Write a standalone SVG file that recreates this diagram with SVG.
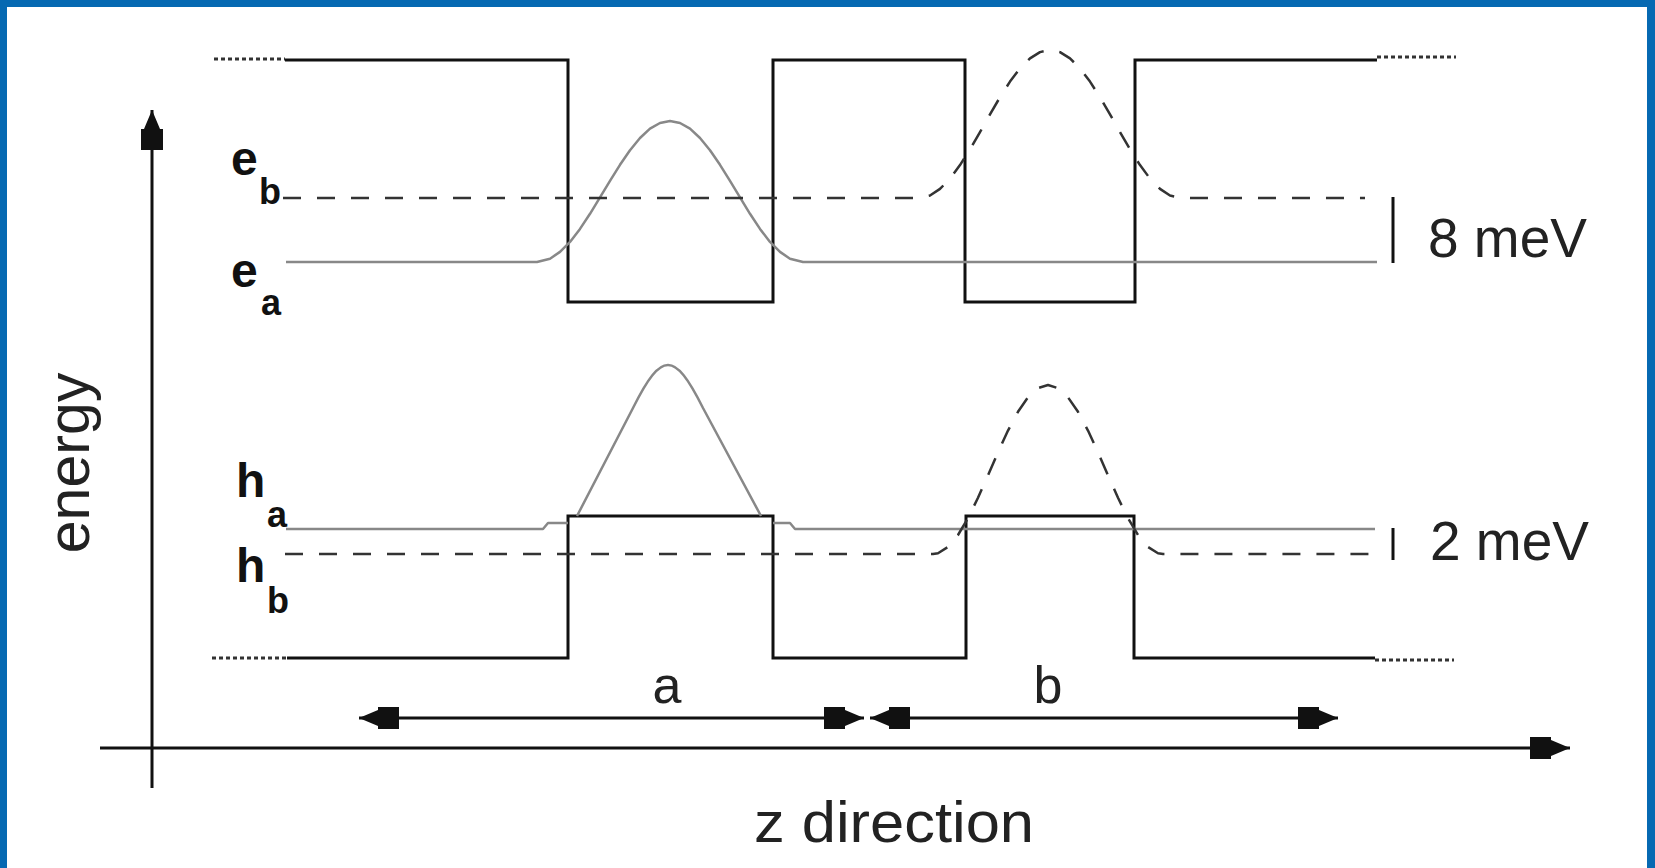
<svg xmlns="http://www.w3.org/2000/svg" width="1655" height="868" viewBox="0 0 1655 868">
<style>
.bar{fill:none;stroke:#111;stroke-width:3;stroke-linejoin:miter}
.dot{fill:none;stroke:#333;stroke-width:3;stroke-dasharray:4 3}
.wfa{fill:none;stroke:#888;stroke-width:2.5;stroke-linejoin:round}
.wfb{fill:none;stroke:#333;stroke-width:2.5;stroke-dasharray:18 16;stroke-linejoin:round}
.ax{fill:none;stroke:#111;stroke-width:3}
.tick{stroke:#111;stroke-width:3}
.lbl{font-family:"Liberation Sans",Arial,sans-serif;font-weight:bold;fill:#111}
.txt{font-family:"Liberation Sans",Arial,sans-serif;fill:#222}
</style>
<defs>
<marker id="ah" viewBox="0 0 40 22" refX="40" refY="11" markerWidth="40" markerHeight="22" markerUnits="userSpaceOnUse" orient="auto-start-reverse">
<path d="M0,0 H21 V3 L40,11 L21,19 V22 H0 Z" fill="#111"/>
</marker>
</defs>
<rect x="0" y="0" width="1655" height="868" fill="#fff"/>
<g id="frame" fill="#0669b2">
<rect x="0" y="0" width="1655" height="7"/>
<rect x="0" y="0" width="7" height="868"/>
<rect x="1647" y="0" width="8" height="868"/>
</g>
<g id="conduction-band">
<path class="dot" d="M214,59 H285"/>
<path class="bar" d="M285,60 H568 V302 H773 V60 H965 V302 H1135 V60 H1377"/>
<path class="dot" d="M1377,57 H1456"/>
</g>
<g id="valence-band">
<path class="dot" d="M212,658 H287"/>
<path class="bar" d="M287,658 H568 V516 H773 V658 H966 V516 H1134 V658 H1375"/>
<path class="dot" d="M1375,660 H1454"/>
</g>
<g id="state-ea">
<path class="wfa" d="M286,262 L537,262 L550,258.7 L560,251.9 L570,241.9 L580,228.9 L590,213.8 L600,197.4 L610,180.8 L620,164.8 L630,150.2 L640,138 L650,128.7 L660,123 L670,121 L680,123 L690,128.7 L700,138 L710,150.2 L720,164.8 L730,180.8 L740,197.4 L750,213.8 L760,228.9 L770,241.9 L780,251.9 L790,258.7 L803,262 L1377,262"/>
</g>
<g id="state-eb">
<path class="wfb" d="M283,198 L919,198 L930,195.5 L940,188.9 L950,178.6 L960,165.1 L970,149.3 L980,132.1 L990,114.3 L1000,97.2 L1010,81.6 L1020,68.4 L1030,58.4 L1040,52.1 L1050,50 L1060,52.1 L1070,58.4 L1080,68.4 L1090,81.6 L1100,97.2 L1110,114.3 L1120,132.1 L1130,149.3 L1140,165.1 L1150,178.6 L1160,188.9 L1170,195.5 L1181,198 L1365,198"/>
</g>
<g id="state-ha">
<path class="wfa" d="M286,529 L543,529 L548,523 L568,523 M577,516 L633,408 C648,378 658,365 668,365 C678,365 688,378 703,408 L761,516 M773,523 L790,523 L795,529 L1375,529"/>
</g>
<g id="state-hb">
<path class="wfb" d="M285,554 L933,554 L938,553.2 L948,547 L958,535 L968,518.2 L978,497.8 L988,475.3 L998,452.3 L1008,430.6 L1018,411.8 L1028,397.3 L1038,388.1 L1048,385 L1058,388.1 L1068,397.3 L1078,411.8 L1088,430.6 L1098,452.3 L1108,475.3 L1118,497.8 L1128,518.2 L1138,535 L1148,547 L1158,553.2 L1163,554 L1375,554"/>
</g>
<g id="labels">
<text class="lbl" x="231" y="175" font-size="48">e</text>
<text class="lbl" x="259" y="204" font-size="36">b</text>
<text class="lbl" x="231" y="287" font-size="48">e</text>
<text class="lbl" x="261" y="315" font-size="36">a</text>
<text class="lbl" x="236" y="497" font-size="48">h</text>
<text class="lbl" x="267" y="527" font-size="36">a</text>
<text class="lbl" x="236" y="582" font-size="48">h</text>
<text class="lbl" x="267" y="613" font-size="36">b</text>
</g>
<g id="scale-8meV">
<line class="tick" x1="1393" y1="197" x2="1393" y2="263"/>
<text class="txt" x="1428" y="257" font-size="55">8 meV</text>
</g>
<g id="scale-2meV">
<line class="tick" x1="1393" y1="528" x2="1393" y2="560"/>
<text class="txt" x="1430" y="560" font-size="55">2 meV</text>
</g>
<g id="connectors">
<line class="ax" x1="152" y1="788" x2="152" y2="110" marker-end="url(#ah)"/>
<line class="ax" x1="100" y1="748" x2="1570" y2="748" marker-end="url(#ah)"/>
<line class="ax" x1="359" y1="718" x2="864" y2="718" marker-start="url(#ah)" marker-end="url(#ah)"/>
<line class="ax" x1="870" y1="718" x2="1338" y2="718" marker-start="url(#ah)" marker-end="url(#ah)"/>
</g>
<g id="axis-labels">
<text class="txt" x="89" y="463" font-size="59" text-anchor="middle" transform="rotate(-90 89 463)">energy</text>
<text class="txt" x="754" y="842" font-size="57" textLength="280" lengthAdjust="spacingAndGlyphs">z direction</text>
<text class="txt" x="667" y="703" font-size="52" text-anchor="middle">a</text>
<text class="txt" x="1048" y="703" font-size="52" text-anchor="middle">b</text>
</g>
</svg>
